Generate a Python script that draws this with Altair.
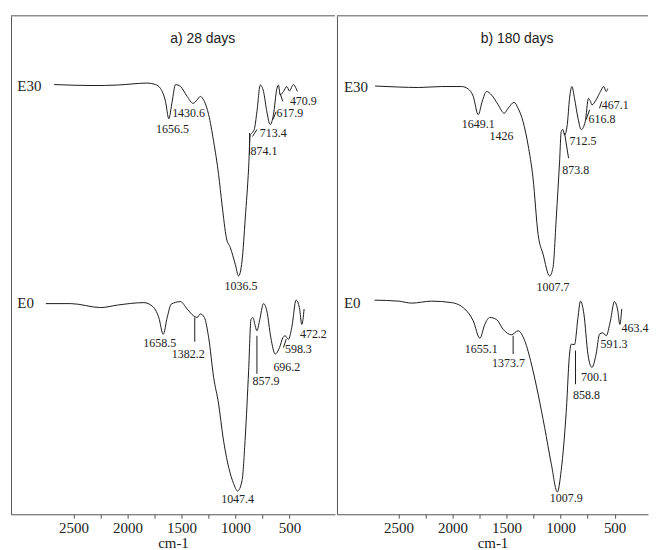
import altair as alt
import pandas as pd

# ---------------- curve data (wavenumber cm-1, relative transmittance) ----------------
# a) 28 days
a_e30_wn = [2679, 2310, 2094, 1817, 1740, 1694, 1648, 1617, 1586, 1555, 1509, 1447, 1392, 1355, 1325,
            1288, 1248, 1202, 1156, 1124, 1084, 1047, 1001, 971, 939, 909, 878, 863, 847, 826,
            801, 770, 740, 709, 678, 648, 616, 601, 586, 555, 524, 500, 463, 438, 426]
a_e30_t = [86.1, 85.9, 86.0, 86.4, 86.1, 85.3, 82.7, 79.2, 82.7, 86.1, 85.7, 83.7, 82.3, 83.0, 83.7,
           82.7, 80.0, 74.6, 67.9, 61.8, 55.1, 53.1, 49.7, 47.4, 50.4, 59.1, 69.2, 75.9, 76.3, 77.0,
           80.6, 86.0, 84.7, 80.6, 78.0, 80.0, 85.3, 86.0, 84.0, 84.7, 85.7, 84.8, 86.1, 85.3, 84.7]

a_e0_wn = [2756, 2525, 2248, 2094, 1848, 1771, 1710, 1669, 1632, 1595, 1509, 1447, 1386, 1355, 1325,
           1288, 1248, 1202, 1156, 1115, 1063, 1017, 980, 939, 909, 878, 856, 838, 817, 801,
           777, 740, 709, 672, 632, 592, 561, 540, 509, 478, 438, 408, 385, 364]
a_e0_t = [41.8, 41.8, 41.0, 41.5, 42.0, 41.3, 39.0, 35.6, 39.0, 41.7, 42.2, 40.7, 39.3, 39.0, 39.7,
          39.0, 34.9, 26.9, 21.5, 14.8, 8.7, 5.4, 3.9, 6.0, 14.8, 28.2, 38.6, 39.0, 37.3, 36.3,
          38.3, 41.8, 40.3, 34.9, 31.6, 32.9, 34.9, 35.3, 34.6, 37.0, 42.5, 41.0, 37.6, 40.7]

# b) 180 days
b_e30_wn = [2716, 2500, 2315, 2101, 1916, 1854, 1808, 1762, 1725, 1685, 1639, 1577, 1522, 1485, 1430,
            1393, 1347, 1301, 1255, 1208, 1162, 1101, 1070, 1040, 1009, 994, 978, 963, 938, 917,
            895, 871, 839, 809, 772, 742, 723, 710, 671, 631, 600, 578, 563]
b_e30_t = [85.8, 85.6, 85.5, 85.7, 85.7, 85.2, 83.7, 80.0, 82.7, 84.7, 84.0, 82.0, 80.3, 81.3, 82.5,
           81.3, 78.6, 73.9, 67.2, 55.8, 51.8, 47.4, 49.1, 59.1, 70.6, 76.6, 77.0, 75.9, 78.0, 83.3,
           85.7, 83.3, 79.3, 77.0, 78.6, 83.3, 82.7, 82.0, 83.0, 84.7, 85.7, 84.7, 85.3]

b_e0_wn = [2721, 2500, 2377, 2193, 2008, 1886, 1808, 1747, 1701, 1655, 1593, 1531, 1455, 1393, 1332,
           1270, 1208, 1148, 1086, 1030, 994, 947, 917, 901, 871, 839, 816, 784, 747, 710,
           671, 640, 609, 578, 539, 502, 470, 452, 434]
b_e0_t = [42.5, 42.3, 41.9, 42.3, 42.0, 40.7, 38.3, 34.8, 37.6, 39.0, 38.6, 36.6, 35.5, 36.3, 34.3,
          29.6, 23.5, 16.8, 9.4, 3.7, 8.1, 20.2, 31.6, 33.6, 33.5, 39.0, 42.3, 39.7, 31.6, 28.9,
          31.6, 35.6, 35.9, 35.3, 38.3, 42.2, 40.3, 37.6, 40.7]

# ---------------- peak labels ----------------
a_lab_text = ["1656.5", "1430.6", "874.1", "713.4", "617.9", "470.9", "1036.5",
              "1658.5", "1382.2", "857.9", "696.2", "598.3", "472.2", "1047.4"]
a_lab_wn = [1583, 1434, 736, 650, 496, 371, 949, 1701, 1437, 717, 524, 417, 278, 980]
a_lab_t = [77.2, 80.4, 72.7, 76.4, 80.4, 82.7, 45.4, 33.9, 31.6, 26.2, 28.9, 32.6, 35.6, 2.2]

b_lab_text = ["1649.1", "1426", "873.8", "712.5", "616.8", "467.1", "1007.7",
              "1655.1", "1373.7", "858.8", "700.1", "591.3", "463.4", "1007.9"]
b_lab_wn = [1762, 1547, 860, 793, 617, 494, 1070, 1734, 1482, 760, 686, 505, 311, 947]
b_lab_t = [78.1, 75.6, 68.9, 74.6, 79.2, 82.0, 45.2, 32.7, 29.7, 23.4, 26.9, 33.6, 36.8, 2.4]

# leader lines: start wn, start t, end wn, end t
a_lead_wn1 = [869, 842, 654, 586, 1377, 801, 555]
a_lead_t1 = [76.3, 75.6, 79.0, 84.3, 39.0, 35.3, 32.9]
a_lead_wn2 = [869, 801, 623, 561, 1377, 801, 530]
a_lead_t2 = [71.9, 77.0, 80.6, 82.7, 34.1, 27.6, 34.6]

b_lead_wn1 = [963, 763, 640, 1439, 862]
b_lead_t1 = [76.3, 79.0, 81.3, 35.3, 32.3]
b_lead_wn2 = [926, 732, 618, 1439, 862]
b_lead_t2 = [71.2, 81.0, 82.7, 31.6, 25.5]

# series names and panel titles
series_names = ["E30", "E0"]
a_name_wn = [3020, 3020]
a_name_t = [85.9, 41.9]
b_name_wn = [3005, 3005]
b_name_t = [85.7, 42.0]

panel_titles = ["a) 28 days", "b) 180 days"]
title_wn = [1303, 1402]
title_t = [95.3, 95.3]

tick_values = [2500, 2250, 2000, 1750, 1500, 1250, 1000, 750, 500]

FRAME = "#555555"
INK = "#1c1c1c"
SERIF = "Liberation Serif"
SANS = "Liberation Sans"


def panel(e30_wn, e30_t, e0_wn, e0_t, lab_text, lab_wn, lab_t,
          l_wn1, l_t1, l_wn2, l_t2, name_wn, name_t, title, t_wn, t_t,
          domain, width):
    curves = pd.concat([
        pd.DataFrame({"wn": e30_wn, "t": e30_t, "series": "E30"}),
        pd.DataFrame({"wn": e0_wn, "t": e0_t, "series": "E0"}),
    ])
    labels = pd.DataFrame({"wn": lab_wn, "t": lab_t, "txt": lab_text})
    leaders = pd.DataFrame({"wn": l_wn1, "t": l_t1, "wn2": l_wn2, "t2": l_t2})
    names = pd.DataFrame({"wn": name_wn, "t": name_t, "txt": series_names})
    ttl = pd.DataFrame({"wn": [t_wn], "t": [t_t], "txt": [title]})

    xs = alt.Scale(domain=domain, reverse=True, nice=False, zero=False)
    ys = alt.Scale(domain=[-0.8, 100], nice=False, zero=False)
    xa = alt.Axis(values=tick_values,
                  labelExpr="datum.value % 500 === 0 ? datum.label : ''",
                  format="d", title="cm-1", grid=False, tickSize=4,
                  tickColor=FRAME, domainColor=FRAME, labelFont=SERIF,
                  labelFontSize=15, labelColor="#222222", titleFont=SERIF,
                  titleFontSize=15, titleFontWeight="normal",
                  titleColor="#222222", titlePadding=0, labelPadding=2)
    ya = alt.Axis(domain=True, domainColor=FRAME, ticks=False, labels=False,
                  title=None, grid=False)
    X = alt.X("wn:Q", scale=xs, axis=xa)
    Y = alt.Y("t:Q", scale=ys, axis=ya)

    lines = alt.Chart(curves).mark_line(
        color=INK, strokeWidth=1, interpolate="monotone"
    ).encode(x=X, y=Y, detail="series:N")

    peak_text = alt.Chart(labels).mark_text(
        font=SERIF, fontSize=12, color="#222222", align="center", baseline="middle"
    ).encode(x=X, y=Y, text="txt:N")

    lead = alt.Chart(leaders).mark_rule(color=INK, strokeWidth=1).encode(
        x=X, y=Y, x2="wn2:Q", y2="t2:Q")

    name_text = alt.Chart(names).mark_text(
        font=SERIF, fontSize=15, color="#222222", align="left", baseline="middle"
    ).encode(x=X, y=Y, text="txt:N")

    title_text = alt.Chart(ttl).mark_text(
        font=SANS, fontSize=14, color="#222222", align="center", baseline="middle"
    ).encode(x=X, y=Y, text="txt:N")

    top = alt.Chart(ttl).mark_rule(color=FRAME, strokeWidth=1).encode(
        x=alt.value(0), x2=alt.value(width), y=alt.value(0))

    return alt.layer(lines, lead, peak_text, name_text, title_text, top).properties(
        width=width, height=500)


left = panel(a_e30_wn, a_e30_t, a_e0_wn, a_e0_t, a_lab_text, a_lab_wn, a_lab_t,
             a_lead_wn1, a_lead_t1, a_lead_wn2, a_lead_t2, a_name_wn, a_name_t,
             panel_titles[0], title_wn[0], title_t[0], [78, 3079], 325)
right = panel(b_e30_wn, b_e30_t, b_e0_wn, b_e0_t, b_lab_text, b_lab_wn, b_lab_t,
              b_lead_wn1, b_lead_t1, b_lead_wn2, b_lead_t2, b_name_wn, b_name_t,
              panel_titles[1], title_wn[1], title_t[1], [191, 3069], 312)

chart = alt.hconcat(left, right, spacing=0).properties(
    padding={"left": 2, "top": 6, "right": 0, "bottom": 0},
    background="white",
).configure_view(stroke=None)

chart.save("out.html", embed_options={"renderer": "svg", "actions": False})
